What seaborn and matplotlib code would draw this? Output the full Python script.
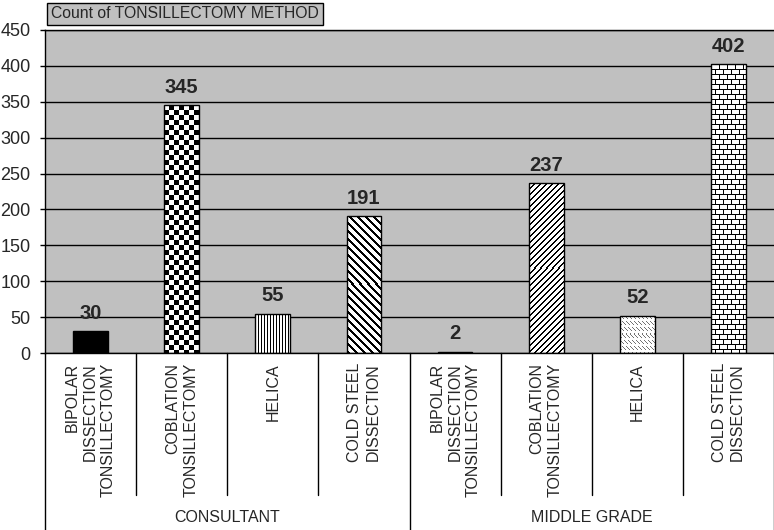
import numpy as np
import pandas as pd
import seaborn as sns
import matplotlib.pyplot as plt
from matplotlib.lines import Line2D

# data
groups = ['CONSULTANT', 'MIDDLE GRADE']
methods = ['BIPOLAR\nDISSECTION\nTONSILLECTOMY', 'COBLATION\nTONSILLECTOMY',
           'HELICA', 'COLD STEEL\nDISSECTION']
consultant = [30, 345, 55, 191]
middle_grade = [2, 237, 52, 402]
patterns = ['solid', 'checker', 'vlines', 'bdiag_thick',
            'solid', 'fdiag', 'dashdiag', 'brick']

df = pd.DataFrame({
    'key': [f'{g}|{m}' for g in groups for m in methods],
    'group': [g for g in groups for m in methods],
    'method': methods * 2,
    'count': consultant + middle_grade,
})

sns.set_style('white')
plt.rcParams['font.family'] = ['Liberation Sans', 'DejaVu Sans']

fig = plt.figure(figsize=(7.74, 5.30), dpi=100)
W, H = 774, 530
ax = fig.add_axes([45 / W, (H - 353) / H, (W - 45) / W, (353 - 30) / H])
ax.set_facecolor('#c0c0c0')

sns.barplot(data=df, x='key', y='count', ax=ax, color='white',
            edgecolor='black', linewidth=1, width=0.38, saturation=1)

ax.set_xlim(-0.5, 7.5)
ax.set_ylim(0, 450)
ax.set_yticks(range(0, 451, 50))
ax.yaxis.grid(True, color='black', linewidth=1)
ax.set_axisbelow(True)
ax.set_xticks([])
ax.set_xlabel('')
ax.set_ylabel('')
ax.tick_params(axis='y', left=True, length=3.5, width=1, color='black',
               labelsize=13, pad=7)
for s in ['left', 'bottom', 'top']:
    ax.spines[s].set_color('black')
    ax.spines[s].set_linewidth(1)
ax.spines['right'].set_visible(False)


def pattern_array(kind, w, h):
    # row 0 is the top of the bar
    yy, xx = np.indices((h, w))
    if kind == 'checker':
        return ((xx // 5 + yy // 5) % 2).astype(float)
    if kind == 'vlines':
        return (xx % 3 == 0).astype(float)
    if kind == 'bdiag_thick':
        return ((xx - yy) % 8 < 3).astype(float)
    if kind == 'fdiag':
        return ((xx + yy) % 6 < 2).astype(float)
    if kind == 'dashdiag':
        return (((xx - yy) % 4 == 0) & (yy % 6 < 4)).astype(float) * 0.55
    if kind == 'brick':
        row = yy // 5
        off = np.where(row % 2 == 0, 0, 4)
        return ((yy % 5 == 0) | ((xx + off) % 8 == 0)).astype(float)
    return np.zeros((h, w))


bars = ax.patches
for p, kind in zip(bars, patterns):
    if kind == 'solid':
        p.set_facecolor('black')
        p.set_zorder(2)
        continue
    bb = p.get_window_extent()
    w = max(int(round(bb.width)), 1)
    h = max(int(round(bb.height)), 1)
    arr = pattern_array(kind, w, h)
    x0, y0 = p.get_x(), p.get_y()
    img = ax.imshow(arr, extent=(x0, x0 + p.get_width(), y0, y0 + p.get_height()),
                    origin='upper', cmap='gray_r', vmin=0, vmax=1,
                    interpolation='nearest', aspect='auto', zorder=1.9)
    img.set_clip_path(p)
    p.set_facecolor('none')
    p.set_zorder(2)

ax.set_xlim(-0.5, 7.5)
ax.set_ylim(0, 450)

for c in ax.containers:
    ax.bar_label(c, padding=6, fontsize=14.5, fontweight='bold')

# category axis below the plot
xt = ax.get_xaxis_transform()
ah = 353 - 30
bottom = -(H - 353) / ah
for i in range(len(df) + 1):
    b = i - 0.5
    yend = bottom if i in (0, 4, 8) else -(495 - 353) / ah
    ax.add_line(Line2D([b, b], [0, yend], transform=xt, color='black',
                       linewidth=1, clip_on=False))

for i, m in enumerate(df['method']):
    ax.text(i, -(363 - 353) / ah, m, transform=xt, rotation=90,
            ha='center', va='top', multialignment='right', fontsize=11.5,
            linespacing=1.25)

for j, g in enumerate(groups):
    ax.text(j * 4 + 1.5, -(517 - 353) / ah, g, transform=xt,
            ha='center', va='center', fontsize=11.5)

fig.text(51 / W, 1 - 14 / H, 'Count of TONSILLECTOMY METHOD', fontsize=11.3,
         ha='left', va='center',
         bbox=dict(boxstyle='square,pad=0.25', facecolor='#c0c0c0',
                   edgecolor='black', linewidth=1))

fig.savefig('out.png', dpi=100)
